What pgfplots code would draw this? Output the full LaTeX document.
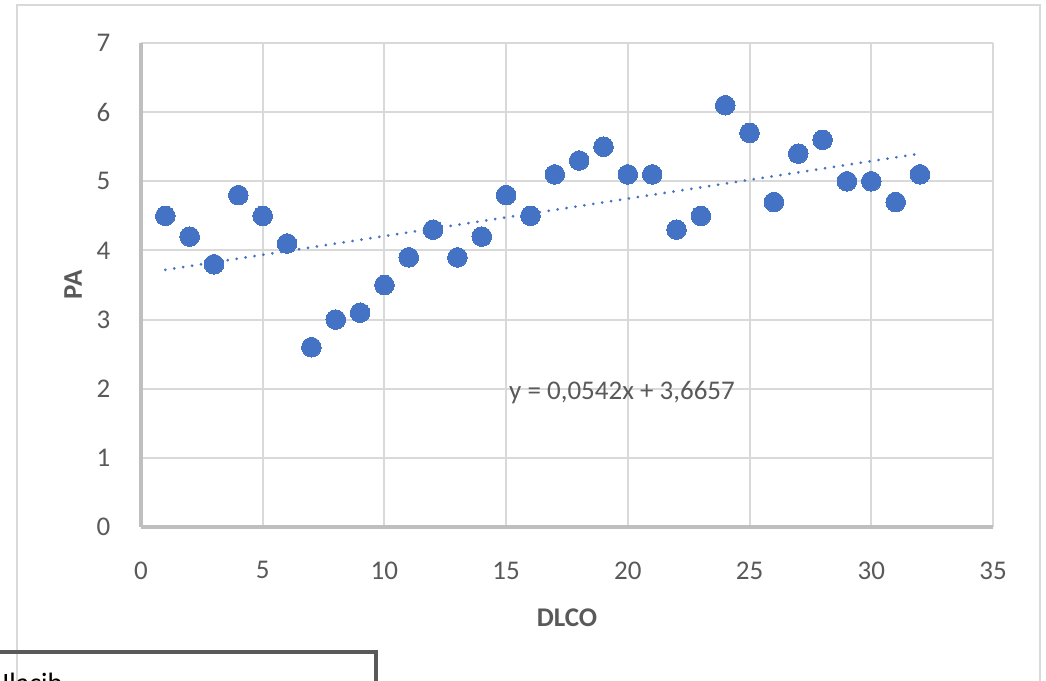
\documentclass[border=0pt]{standalone}
\usepackage{fontspec}
\setmainfont{Carlito}
\usepackage{pgfplots}
\pgfplotsset{compat=1.18}
\definecolor{ptblue}{HTML}{4472C4}
\definecolor{txtgray}{HTML}{595959}
\definecolor{gridgray}{HTML}{D9D9D9}
\definecolor{axgray}{HTML}{BFBFBF}
\begin{document}
\begin{tikzpicture}
\useasboundingbox (0,0) rectangle (523pt,340.5pt);
\clip (0,0) rectangle (523pt,340.5pt);
% outer chart border
\draw[gridgray, line width=1pt] (8.5pt,-5pt) -- (8.5pt,338pt) -- (520pt,338pt) -- (520pt,-5pt);
\begin{axis}[
  at={(70.5pt,77pt)}, anchor=south west,
  scale only axis, width=426pt, height=242pt,
  xmin=0, xmax=35, ymin=0, ymax=7,
  xtick={0,5,...,35}, ytick={0,1,...,7},
  axis x line=bottom, axis y line=left,
  axis line style={axgray, line width=1.75pt, -},
  grid=major, major grid style={gridgray, line width=1pt},
  tick style={draw=none},
  /pgf/number format/assume math mode=true,
  tick label style={font=\fontsize{13.5}{16}\selectfont, text=txtgray, inner sep=0pt},
  yticklabel style={anchor=east, xshift=-13pt},
  xticklabel style={anchor=north, yshift=-15pt},
  xlabel={\textbf{DLCO}}, ylabel={\textbf{PA}},
  label style={font=\fontsize{13.5}{16}\selectfont, text=txtgray},
  xlabel style={at={(axis description cs:0.5,-0.188)}, anchor=center},
  ylabel style={at={(axis description cs:-0.0798,0.5)}, anchor=center},
  clip=false,
]
\addplot[only marks, color=ptblue, mark=*, mark size=4.9pt, mark options={fill=ptblue, draw=ptblue, line width=0pt}] coordinates {
(1,4.5) (2,4.2) (3,3.8) (4,4.8) (5,4.5) (6,4.1) (7,2.6) (8,3.0)
(9,3.1) (10,3.5) (11,3.9) (12,4.3) (13,3.9) (14,4.2) (15,4.8) (16,4.5)
(17,5.1) (18,5.3) (19,5.5) (20,5.1) (21,5.1) (22,4.3) (23,4.5) (24,6.1)
(25,5.7) (26,4.7) (27,5.4) (28,5.6) (29,5.0) (30,5.0) (31,4.7) (32,5.1)
};
\addplot[ptblue, line width=1.5pt, line cap=round, dash pattern=on 0.01pt off 4.5pt] coordinates {(1,3.7199) (32,5.4001)};
\node[text=txtgray, font=\fontsize{13.5}{16}\selectfont, anchor=center] at (axis cs:19.76,1.94) {y = 0,0542x + 3,6657};
\end{axis}
% partially visible box at the bottom left
\draw[txtgray, line width=2.25pt] (-5pt,14.5pt) -- (188pt,14.5pt) -- (188pt,-10pt);
\node[anchor=base west, inner sep=0pt, font=\fontsize{14}{16}\selectfont] at (1pt,-5.5pt) {Ilacib};
\end{tikzpicture}
\end{document}
